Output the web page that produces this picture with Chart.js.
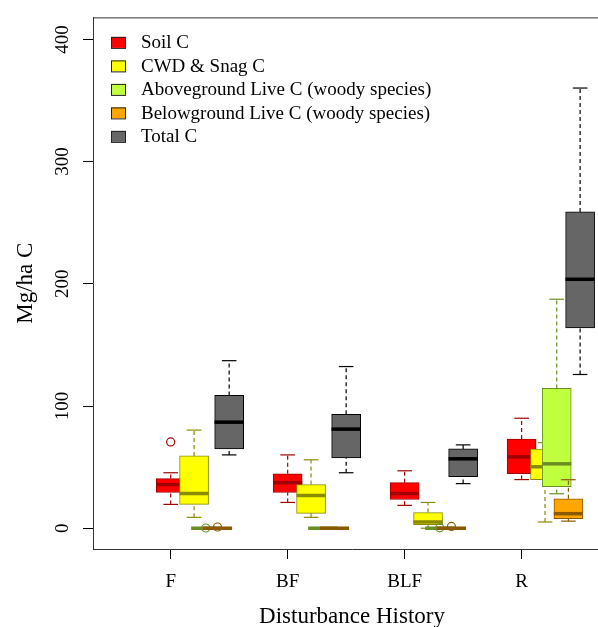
<!DOCTYPE html>
<html>
<head>
<meta charset="utf-8">
<script src="https://cdn.jsdelivr.net/npm/chart.js@4.4.1/dist/chart.umd.min.js"></script>
<style>
  html, body { margin: 0; padding: 0; background: #fff; overflow: hidden; }
  #wrap { width: 620px; height: 627px; }
</style>
</head>
<body>
<div id="wrap"><canvas id="myChart" width="620" height="627"></canvas></div>
<script>
// categorias y series
var groups = ['F', 'BF', 'BLF', 'R'];
var seriesNames = ['Soil C', 'CWD & Snag C', 'Aboveground Live C (woody species)',
  'Belowground Live C (woody species)', 'Total C'];
var yTicks = [0, 100, 200, 300, 400];

// cada caja: [bigote inf, Q1, mediana, Q3, bigote sup]
var soilStats = [[19.5, 29.2, 35.7, 40.6, 45.4], [21.1, 29.2, 37.3, 44.6, 60.0],
  [18.7, 23.5, 28.4, 37.3, 47.0], [39.8, 44.6, 58.4, 73.0, 90.0]];
var cwdStats = [[8.9, 19.5, 28.4, 59.2, 80.3], [8.9, 12.2, 26.8, 35.7, 56.0],
  [0.0, 3.0, 5.1, 12.8, 21.1], [5.1, 39.7, 50.3, 64.7, 70.0]];
var aboveStats = [[0, 0, 0, 0, 0], [0, 0, 0, 0, 0],
  [0, 0, 0, 0, 0], [28.2, 34.1, 52.7, 114.4, 187.4]];
var belowStats = [[0, 0, 0, 0, 0], [0, 0, 0, 0, 0],
  [0, 0, 0, 0, 0], [5.8, 7.9, 11.9, 24.1, 39.7]];
var totalStats = [[60.0, 64.9, 86.8, 108.7, 137.1], [45.4, 57.6, 81.1, 93.3, 132.3],
  [36.5, 42.2, 56.8, 64.9, 68.2], [125.8, 163.9, 203.7, 258.8, 360.2]];

// valores atipicos
var soilOut = [[70.6], [], [], []];
var cwdOut = [[], [], [], []];
var aboveOut = [[0.2], [], [0.3], []];
var belowOut = [[1.0], [], [1.5], []];
var totalOut = [[], [], [], []];

var allStats = [soilStats, cwdStats, aboveStats, belowStats, totalStats];
var allOut = [soilOut, cwdOut, aboveOut, belowOut, totalOut];

// estilos
var fills = ['#FF0000', '#FFFF00', '#C0FF3E', '#FFA500', '#666666'];
var borders = ['#A00000', '#8B8B00', '#6B8E23', '#8B5A00', '#000000'];
var offsets = [0, 0.2, 0.3, 0.4, 0.5];
var boxWidth = 0.25;

function seg(ctx, x1, y1, x2, y2) {
  ctx.beginPath();
  ctx.moveTo(x1, y1);
  ctx.lineTo(x2, y2);
  ctx.stroke();
}

// bigotes, medianas y atipicos, dibujados justo despues de cada serie
var boxParts = {
  id: 'boxParts',
  afterDatasetDraw: function (chart, args) {
    var i = args.index;
    var ctx = chart.ctx;
    var xs = chart.scales.x, ys = chart.scales.y;
    ctx.save();
    ctx.strokeStyle = borders[i];
    allStats[i].forEach(function (s, j) {
      var xv = j + 1 + offsets[i];
      var cx = xs.getPixelForValue(xv);
      var half = xs.getPixelForValue(xv + boxWidth / 2) - cx;
      var p = s.map(function (v) { return ys.getPixelForValue(v); });
      ctx.lineWidth = 1.2;
      ctx.setLineDash([4, 3]);
      if (s[0] < s[1]) seg(ctx, cx, p[0], cx, p[1]);
      if (s[4] > s[3]) seg(ctx, cx, p[3], cx, p[4]);
      ctx.setLineDash([]);
      seg(ctx, cx - half / 2, p[0], cx + half / 2, p[0]);
      seg(ctx, cx - half / 2, p[4], cx + half / 2, p[4]);
      ctx.lineWidth = 3.5;
      seg(ctx, cx - half, p[2], cx + half, p[2]);
      ctx.lineWidth = 1.2;
      allOut[i][j].forEach(function (o) {
        ctx.beginPath();
        ctx.arc(cx, ys.getPixelForValue(o), 4, 0, Math.PI * 2);
        ctx.stroke();
      });
    });
    ctx.restore();
  },
  afterDraw: function (chart) {
    var ctx = chart.ctx;
    var a = chart.chartArea;
    ctx.save();
    // marco superior
    ctx.strokeStyle = '#333';
    ctx.lineWidth = 1;
    seg(ctx, a.left, a.top + 0.5, a.right, a.top + 0.5);
    // leyenda
    ctx.font = '19px "Liberation Serif"';
    ctx.textBaseline = 'middle';
    seriesNames.forEach(function (name, i) {
      var cy = a.top + 25 + i * 23.5;
      ctx.fillStyle = fills[i];
      ctx.fillRect(a.left + 18, cy - 5.5, 15, 11);
      ctx.strokeStyle = '#222';
      ctx.strokeRect(a.left + 18.5, cy - 5, 14, 11);
      ctx.fillStyle = '#000';
      ctx.fillText(name, a.left + 48, cy + 1);
    });
    ctx.restore();
  }
};

Chart.defaults.font.family = '"Liberation Serif", "Times New Roman", serif';
Chart.defaults.color = '#000';

var datasets = seriesNames.map(function (name, i) {
  return {
    label: name,
    data: allStats[i].map(function (s, j) {
      return { x: j + 1 + offsets[i], y: [s[1], s[3]] };
    }),
    backgroundColor: fills[i],
    borderColor: borders[i],
    borderWidth: 1,
    borderSkipped: false,
    barThickness: 29,
    grouped: false,
    order: seriesNames.length - i
  };
});

var ctx = document.getElementById('myChart').getContext('2d');
var myChart = new Chart(ctx, {
  type: 'bar',
  data: { datasets: datasets },
  options: {
    responsive: false,
    animation: false,
    events: [],
    layout: { padding: { top: 13, right: 9, left: 0, bottom: 0 } },
    plugins: { legend: { display: false }, tooltip: { enabled: false } },
    scales: {
      x: {
        type: 'linear', min: 0.336, max: 4.764, offset: false,
        afterBuildTicks: function (s) { s.ticks = groups.map(function (g, j) { return { value: j + 1 }; }); },
        afterFit: function (s) { s.height = 78; },
        grid: { drawOnChartArea: false, drawTicks: true, tickLength: 10, color: '#000', offset: false },
        border: { display: true, color: '#333' },
        ticks: {
          callback: function (v) { return groups[v - 1]; },
          font: { size: 19 }, color: '#000', padding: 12, maxRotation: 0, autoSkip: false
        },
        title: { display: true, text: 'Disturbance History', font: { size: 23, lineHeight: 0.85 }, color: '#000', padding: 0 }
      },
      y: {
        type: 'linear', min: -17, max: 418,
        afterBuildTicks: function (s) { s.ticks = yTicks.map(function (v) { return { value: v }; }); },
        afterFit: function (s) { s.width = 93; },
        grid: { drawOnChartArea: false, drawTicks: true, tickLength: 10, color: '#000' },
        border: { display: true, color: '#333' },
        ticks: { minRotation: 90, maxRotation: 90, crossAlign: 'center', padding: 6, font: { size: 19 }, color: '#000' },
        title: { display: true, text: 'Mg/ha C', font: { size: 23, lineHeight: 1 }, color: '#000', padding: { top: 14, bottom: 0 } }
      }
    }
  },
  plugins: [boxParts]
});
</script>
</body>
</html>
